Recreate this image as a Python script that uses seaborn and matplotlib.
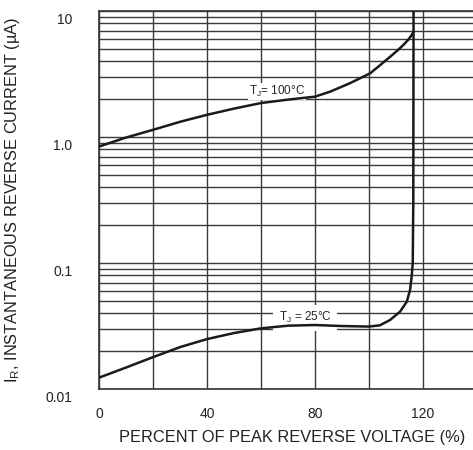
import numpy as np
import pandas as pd
import seaborn as sns
import matplotlib
matplotlib.use("Agg")
import matplotlib.pyplot as plt
from matplotlib.ticker import FixedLocator, LogLocator, NullFormatter, FixedFormatter
from matplotlib.transforms import ScaledTranslation

# ---- data ----
pct_100 = [0, 10, 20, 30, 40, 50, 60, 70, 80, 85.6, 92.9, 100.4, 104, 107.8, 110.5, 112.7, 114.5, 115.8, 116.4]
ir_100 = [0.84, 0.99, 1.14, 1.32, 1.50, 1.68, 1.86, 1.98, 2.09, 2.29, 2.67, 3.2, 3.7, 4.33, 4.85, 5.37, 5.9, 6.45, 6.8]

pct_25 = [0, 10, 20, 30, 40, 50, 60, 70, 80, 90, 100, 104, 107.8, 111.5, 114, 115.2, 115.8, 116.2, 116.4, 116.5]
ir_25 = [0.0123, 0.0148, 0.0179, 0.0215, 0.0249, 0.0278, 0.0303, 0.0318, 0.0322, 0.0316, 0.0313, 0.032, 0.0353, 0.0411, 0.0493, 0.061, 0.078, 0.1, 0.3, 10.0]

x_ticks = [0, 40, 80, 120]
x_minor = [20, 60, 100, 140]
y_ticks = [0.01, 0.1, 1.0, 10]
y_tick_labels = ["0.01", "0.1", "1.0", "10"]

label_100 = "T$_\\mathregular{J}$= 100°C"
label_25 = "T$_\\mathregular{J}$ = 25°C"
xlabel = "PERCENT OF PEAK REVERSE VOLTAGE (%)"
ylabel = "I$_\\mathregular{R}$, INSTANTANEOUS REVERSE CURRENT (µA)"

df = pd.concat([
    pd.DataFrame({"pct": pct_100, "ir": ir_100, "tj": "100"}),
    pd.DataFrame({"pct": pct_25, "ir": ir_25, "tj": "25"}),
], ignore_index=True)

sns.set_style("white")
plt.rcParams["font.family"] = ["Liberation Sans", "DejaVu Sans"]
plt.rcParams["mathtext.fontset"] = "custom"
plt.rcParams["mathtext.rm"] = "Liberation Sans"

fig = plt.figure(figsize=(4.73, 4.50), dpi=100)
ax = fig.add_axes([99 / 473, 61 / 450, 378 / 473, 378 / 450])

ax.set_yscale("log")
ax.set_xlim(0, 140)
ax.set_ylim(0.01, 10)

sns.lineplot(data=df, x="pct", y="ir", units="tj", estimator=None, sort=False,
             color="#1a1a1a", linewidth=1.8, ax=ax, zorder=5, legend=False)

# grid
grid_col = "#3a3a3a"
ax.xaxis.set_major_locator(FixedLocator(x_ticks))
ax.xaxis.set_minor_locator(FixedLocator(x_minor))
ax.yaxis.set_major_locator(FixedLocator(y_ticks))
ax.yaxis.set_major_formatter(FixedFormatter(y_tick_labels))
ax.yaxis.set_minor_locator(LogLocator(base=10, subs=np.arange(2, 10)))
ax.yaxis.set_minor_formatter(NullFormatter())
ax.grid(True, which="both", color=grid_col, linewidth=1.0)
ax.set_axisbelow(True)

ax.tick_params(axis="both", which="both", length=0)
ax.tick_params(axis="x", labelsize=10, pad=13, colors="#222222")
ax.tick_params(axis="y", labelsize=10, pad=19, colors="#222222")

off = ScaledTranslation(0, -8 / 100, fig.dpi_scale_trans)
for lab in ax.get_yticklabels():
    lab.set_transform(lab.get_transform() + off)

for side in ["left", "bottom", "top"]:
    ax.spines[side].set_color("#333333")
    ax.spines[side].set_linewidth(1.2)
ax.spines["right"].set_visible(False)

ax.set_xlabel(xlabel, fontsize=11.8, color="#222222")
ax.set_ylabel(ylabel, fontsize=11.8, color="#222222")
ax.xaxis.set_label_coords(0.511, -0.108)
ax.xaxis.label.set_va("top")
ax.yaxis.set_label_coords(-0.204, 0.5)

ax.text(66, 2.30, label_100, fontsize=8.5, ha="center", va="center", zorder=4,
        bbox=dict(boxstyle="square,pad=0.05", fc="white", ec="none"))
ax.text(76.3, 0.0368, label_25, fontsize=8.5, ha="center", va="center", zorder=4,
        bbox=dict(boxstyle="square,pad=0.45", fc="white", ec="none"))

fig.savefig("out.png", dpi=100)
